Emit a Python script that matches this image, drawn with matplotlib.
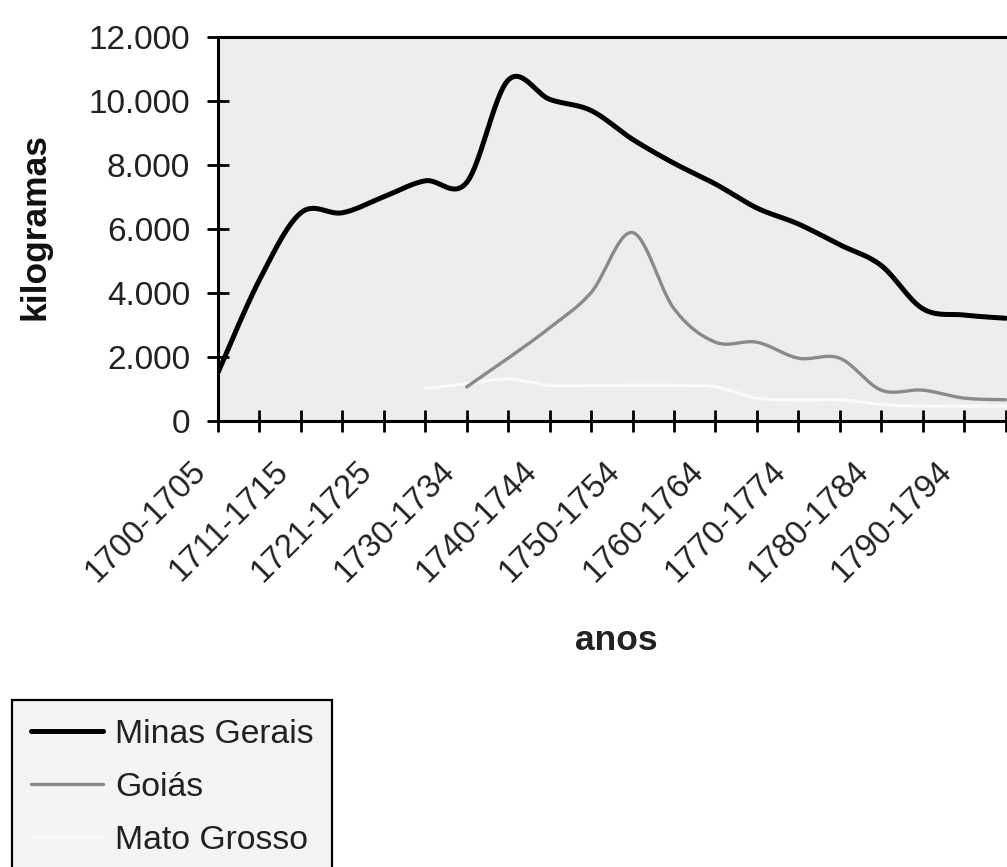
import numpy as np
import matplotlib
matplotlib.use("Agg")
import matplotlib.pyplot as plt
from matplotlib.ticker import FuncFormatter
import matplotlib.transforms as mtransforms

plt.rcParams['font.family'] = ['Liberation Sans', 'DejaVu Sans']

# ---- data (kg) ----
periods = ["1700-1705", "1706-1710", "1711-1715", "1716-1720", "1721-1725",
           "1726-1729", "1730-1734", "1735-1739", "1740-1744", "1745-1749",
           "1750-1754", "1755-1759", "1760-1764", "1765-1769", "1770-1774",
           "1775-1779", "1780-1784", "1785-1789", "1790-1794", "1795-1799"]
minas_gerais = [1500, 4400, 6500, 6500, 7000, 7500, 7450, 10650, 10050, 9700,
                8800, 8050, 7400, 6650, 6150, 5500, 4850, 3500, 3300, 3200]
goias = [None, None, None, None, None, None, 1050, 1950, 2900, 4000,
         5880, 3500, 2450, 2450, 1950, 1950, 950, 950, 700, 650]
mato_grosso = [None, None, None, None, None, 1000, 1150, 1300, 1100, 1100,
               1100, 1100, 1050, 700, 650, 650, 500, 450, 450, 450]
series_names = ["Minas Gerais", "Goiás", "Mato Grosso"]
yticks = [0, 2000, 4000, 6000, 8000, 10000, 12000]


def smooth(vals, n=30):
    """Excel-style smoothed line (Bezier with Catmull-Rom control points),
    computed separately for each run of non-missing values."""
    xs_all, ys_all = [], []
    idx = [i for i, v in enumerate(vals) if v is not None]
    runs, cur = [], []
    for i in idx:
        if cur and i != cur[-1] + 1:
            runs.append(cur)
            cur = []
        cur.append(i)
    if cur:
        runs.append(cur)
    for run in runs:
        P = np.array([[i, vals[i]] for i in run], dtype=float)
        m = len(P)
        out = [P[0:1]]
        for i in range(m - 1):
            p0 = P[i - 1] if i > 0 else P[i]
            p1, p2 = P[i], P[i + 1]
            p3 = P[i + 2] if i + 2 < m else P[i + 1]
            c1 = p1 + (p2 - p0) / 6.0
            c2 = p2 - (p3 - p1) / 6.0
            t = np.linspace(0, 1, n)[1:, None]
            seg = ((1 - t) ** 3) * p1 + 3 * ((1 - t) ** 2) * t * c1 + \
                3 * (1 - t) * t ** 2 * c2 + t ** 3 * p2
            out.append(seg)
        pts = np.vstack(out)
        xs_all.append(pts[:, 0])
        ys_all.append(pts[:, 1])
    return xs_all, ys_all


W, H = 1007, 867
fig = plt.figure(figsize=(W / 100, H / 100), dpi=100)
fig.patch.set_facecolor('white')

left_px, right_px, top_px, bottom_px = 218, 1007, 37, 420.5
ax = fig.add_axes([left_px / W, 1 - bottom_px / H,
                   (right_px - left_px) / W, (bottom_px - top_px) / H])
ax.set_facecolor('#ededed')

x = np.arange(len(periods))
styles = [dict(color='black', lw=3.6, zorder=4),
          dict(color='#8a8a8a', lw=2.4, zorder=3),
          dict(color='#fafafa', lw=2.4, zorder=2)]
handles = []
for vals, name, st in zip([minas_gerais, goias, mato_grosso], series_names, styles):
    xs, ys = smooth(vals)
    for j, (sx, sy) in enumerate(zip(xs, ys)):
        ln, = ax.plot(sx, sy, solid_capstyle='round', **st,
                      label=name if j == 0 else None)
        if j == 0:
            handles.append(ln)

ax.set_xlim(0, (right_px - left_px) / 41.45)
ax.set_ylim(0, 12000)
ax.set_yticks(yticks)
ax.yaxis.set_major_formatter(FuncFormatter(lambda v, p: f"{int(v):,}".replace(",", ".")))
ax.set_xticks(x)

for s in ['left', 'bottom', 'top']:
    ax.spines[s].set_linewidth(2.2)
    ax.spines[s].set_color('black')
ax.spines['right'].set_visible(False)
ax.tick_params(axis='both', direction='inout', length=16, width=2.0, color='black')
ax.tick_params(axis='y', labelsize=24, pad=12, labelcolor='#222222')
ax.tick_params(axis='x', labelsize=23.5, pad=25, labelcolor='#222222')

ax.set_xticklabels([p if i % 2 == 0 else "" for i, p in enumerate(periods)],
                   rotation=45, ha='right', va='center', rotation_mode='anchor')
offset = mtransforms.ScaledTranslation(-17 / 100, 0, fig.dpi_scale_trans)
for lbl in ax.get_xticklabels():
    lbl.set_transform(lbl.get_transform() + offset)

fig.text(35 / W, 1 - 227 / H, "kilogramas", fontsize=25.5, fontweight='bold',
         rotation=90, ha='center', va='center', color='#111111')

fig.text(616 / W, 1 - 640 / H, "anos", fontsize=25.5, fontweight='bold',
         ha='center', va='center', color='#222222')

leg = fig.legend(handles=handles, labels=series_names, loc='upper left',
                 bbox_to_anchor=(12 / W, 1 - 700 / H), bbox_transform=fig.transFigure,
                 borderaxespad=0, fontsize=24.3, frameon=True, fancybox=False,
                 edgecolor='black', facecolor='#f4f4f4', framealpha=1,
                 handlelength=2.15, handletextpad=0.35, labelspacing=0.66,
                 borderpad=0.55)
leg.get_frame().set_linewidth(1.6)
for t in leg.get_texts():
    t.set_color('#222222')

fig.savefig("out.png", dpi=100)
